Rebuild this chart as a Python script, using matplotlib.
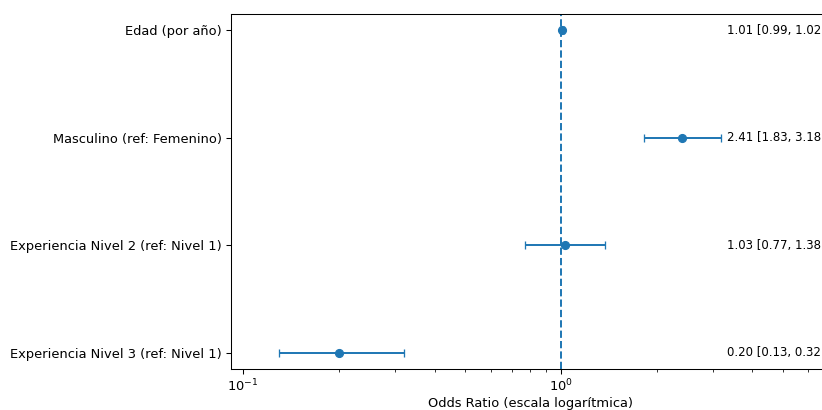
import matplotlib
matplotlib.use("Agg")
import matplotlib.pyplot as plt
import numpy as np

labels = ["Edad (por año)", "Masculino (ref: Femenino)",
          "Experiencia Nivel 2 (ref: Nivel 1)", "Experiencia Nivel 3 (ref: Nivel 1)"]
odds = [1.01, 2.41, 1.03, 0.20]
lower = [0.99, 1.83, 0.77, 0.13]
upper = [1.02, 3.18, 1.38, 0.32]

DPI = 94
fig = plt.figure(figsize=(822 / DPI, 410 / DPI), dpi=DPI)
ax = fig.add_axes([231 / 822, 1 - 369 / 410, 598.7 / 822, 355 / 410])

y = np.arange(len(labels))
odds_a = np.array(odds)
err = np.array([odds_a - np.array(lower), np.array(upper) - odds_a])
ax.errorbar(odds_a, y, xerr=err, fmt='o', capsize=3, color='C0')
ax.axvline(1, linestyle='--', color='C0')
ax.set_xscale('log')
ax.set_yticks(y)
ax.set_yticklabels(labels)
ax.invert_yaxis()
ax.set_xlim(0.0916, 7.0)
ax.set_xlabel("Odds Ratio (escala logarítmica)", labelpad=1.5)

tx = max(upper) * 1.05
for yi, o, l, u in zip(y, odds, lower, upper):
    ax.text(tx, yi, f"{o:.2f} [{l:.2f}, {u:.2f}]", va='center', ha='left', fontsize=9)

fig.savefig("out.png", dpi=DPI)
